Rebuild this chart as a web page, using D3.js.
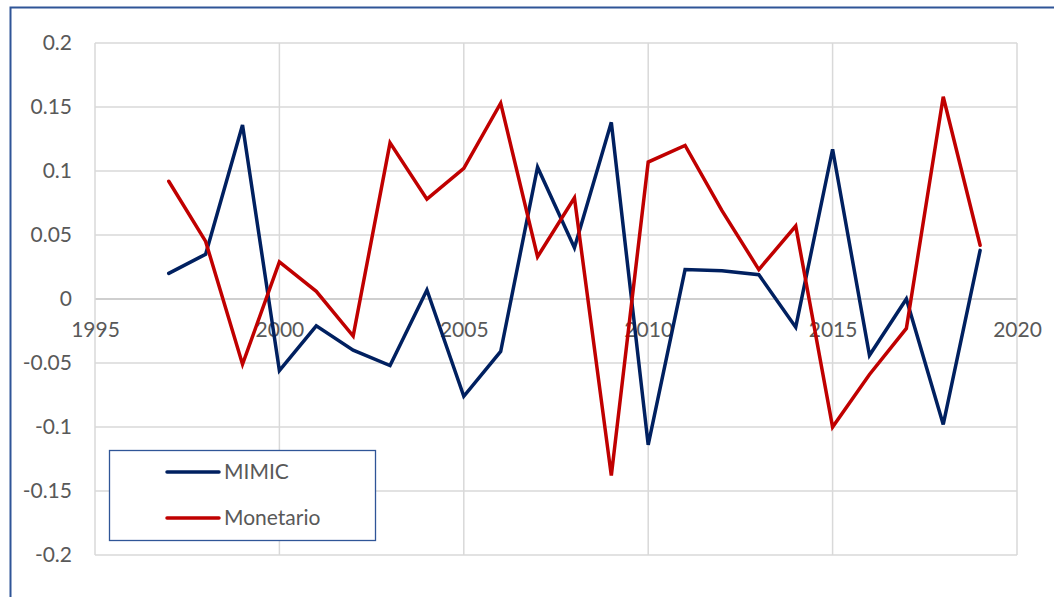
<!DOCTYPE html>
<html>
<head>
<meta charset="utf-8">
<script src="https://cdn.jsdelivr.net/npm/d3@7"></script>
<style>
  html, body { margin: 0; padding: 0; background: #fff; }
  svg { display: block; font-family: Lato, "Open Sans", sans-serif; }
</style>
</head>
<body>
<svg id="chart" width="1054" height="597"></svg>
<script>
// Years and the two series
const years = [1997, 1998, 1999, 2000, 2001, 2002, 2003, 2004, 2005, 2006, 2007, 2008,
               2009, 2010, 2011, 2012, 2013, 2014, 2015, 2016, 2017, 2018, 2019];
const mimic = [0.020, 0.035, 0.136, -0.056, -0.021, -0.040, -0.052, 0.007, -0.076, -0.041, 0.103, 0.040,
               0.138, -0.114, 0.023, 0.022, 0.019, -0.022, 0.117, -0.044, 0.000, -0.098, 0.038];
const monetario = [0.092, 0.045, -0.051, 0.029, 0.006, -0.029, 0.122, 0.078, 0.102, 0.153, 0.033, 0.079,
                   -0.138, 0.107, 0.120, 0.069, 0.023, 0.057, -0.100, -0.059, -0.023, 0.158, 0.042];
const xTicks = [1995, 2000, 2005, 2010, 2015, 2020];
const yTicks = [0.2, 0.15, 0.1, 0.05, 0, -0.05, -0.1, -0.15, -0.2];
const seriesNames = ["MIMIC", "Monetario"];
const seriesColors = ["#002060", "#C00000"];

const svg = d3.select("#chart");
const plot = { left: 95, right: 1017, top: 43, bottom: 555 };
const labelFont = "21px";

const x = d3.scaleLinear().domain([1995, 2020]).range([plot.left, plot.right]);
const y = d3.scaleLinear().domain([-0.2, 0.2]).range([plot.bottom, plot.top]);

// Chart frame
svg.append("path")
  .attr("d", `M10.5,${597} V7.5 H1060`)
  .attr("fill", "none")
  .attr("stroke", "#2F5597")
  .attr("stroke-width", 2);

// Gridlines
const grid = svg.append("g");
grid.selectAll("line.h").data(yTicks).join("line")
  .attr("x1", plot.left).attr("x2", plot.right)
  .attr("y1", d => y(d)).attr("y2", d => y(d))
  .attr("stroke", d => d === 0 ? "#bfbfbf" : "#d9d9d9")
  .attr("stroke-width", 1.5);
grid.selectAll("line.v").data(xTicks).join("line")
  .attr("y1", plot.top).attr("y2", plot.bottom)
  .attr("x1", d => x(d)).attr("x2", d => x(d))
  .attr("stroke", "#d9d9d9")
  .attr("stroke-width", 1.5);

// Y axis labels
const fmtY = d => d === 0 ? "0" : String(d);
const yAxis = svg.append("g")
  .attr("transform", `translate(${plot.left},0)`)
  .call(d3.axisLeft(y).tickValues(yTicks).tickFormat(fmtY).tickSize(0).tickPadding(23));
yAxis.select(".domain").remove();
yAxis.selectAll("text")
  .attr("fill", "#595959")
  .style("font-size", labelFont)
  .style("font-family", "Lato, 'Open Sans', sans-serif");

// X axis labels, placed on the zero line
const xAxis = svg.append("g")
  .attr("transform", `translate(0,${y(0)})`)
  .call(d3.axisBottom(x).tickValues(xTicks).tickFormat(d3.format("d")).tickSize(0).tickPadding(23));
xAxis.select(".domain").remove();
xAxis.selectAll("text")
  .attr("fill", "#595959")
  .style("font-size", labelFont)
  .style("font-family", "Lato, 'Open Sans', sans-serif");

// Series lines
const line = d3.line().x((d, i) => x(years[i])).y(d => y(d));
[mimic, monetario].forEach((vals, k) => {
  svg.append("path")
    .datum(vals)
    .attr("d", line)
    .attr("fill", "none")
    .attr("stroke", seriesColors[k])
    .attr("stroke-width", 3.5)
    .attr("stroke-linejoin", "miter")
    .attr("stroke-linecap", "round");
});

// Legend
const legend = svg.append("g");
legend.append("rect")
  .attr("x", 109.5).attr("y", 450.5)
  .attr("width", 266).attr("height", 90)
  .attr("fill", "#fff")
  .attr("stroke", "#2F5597")
  .attr("stroke-width", 1.3);
seriesNames.forEach((name, k) => {
  const ly = 472 + k * 46;
  legend.append("line")
    .attr("x1", 167).attr("x2", 219)
    .attr("y1", ly).attr("y2", ly)
    .attr("stroke", seriesColors[k])
    .attr("stroke-width", 3.5)
    .attr("stroke-linecap", "round");
  legend.append("text")
    .attr("x", 224).attr("y", ly)
    .attr("dy", "0.35em")
    .attr("fill", "#595959")
    .style("font-size", labelFont)
    .text(name);
});
</script>
</body>
</html>
